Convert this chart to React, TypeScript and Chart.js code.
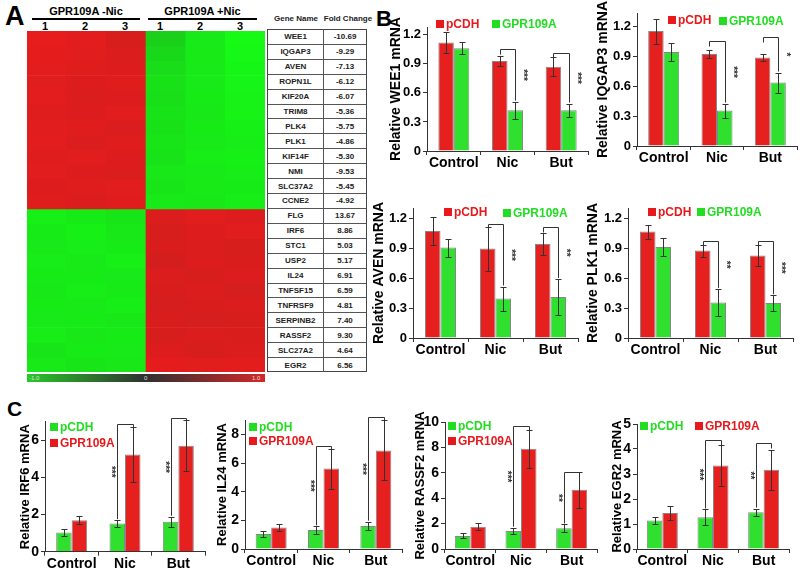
import React, { useEffect, useRef } from 'react';
import { Chart, registerables } from 'chart.js';
Chart.register(...registerables);

const FONT = 'Arial, "Liberation Sans", Helvetica, sans-serif';
const RED = '#e61f1f';
const GREEN = '#2fe02f';
const LEG_RED = '#e8191c';
const LEG_GREEN = '#22dd22';

// ---------- Panel A data ----------
const heatColumns = ['-Nic 1', '-Nic 2', '-Nic 3', '+Nic 1', '+Nic 2', '+Nic 3'];
const geneRows = ['WEE1', 'IQGAP3', 'AVEN', 'ROPN1L', 'KIF20A', 'TRIM8', 'PLK4', 'PLK1', 'KIF14F', 'NMI', 'SLC37A2', 'CCNE2',
  'FLG', 'IRF6', 'STC1', 'USP2', 'IL24', 'TNFSF15', 'TNFRSF9', 'SERPINB2', 'RASSF2', 'SLC27A2', 'EGR2'];
const foldChanges = ['-10.69', '-9.29', '-7.13', '-6.12', '-6.07', '-5.36', '-5.75', '-4.86', '-5.30', '-9.53', '-5.45', '-4.92',
  '13.67', '8.86', '5.03', '5.17', '6.91', '6.59', '4.81', '7.40', '9.30', '4.64', '6.56'];
const heatValues: number[][] = [
  [0.98, 0.96, 0.90, -0.80, -0.92, -1.00],
  [0.97, 0.95, 0.92, -0.84, -0.93, -0.99],
  [0.96, 0.94, 0.93, -0.86, -0.92, -0.98],
  [0.95, 0.93, 0.94, -0.88, -0.92, -0.97],
  [0.96, 0.92, 0.93, -0.87, -0.93, -0.96],
  [0.94, 0.93, 0.95, -0.89, -0.91, -0.96],
  [0.95, 0.94, 0.92, -0.88, -0.93, -0.95],
  [0.96, 0.92, 0.94, -0.90, -0.92, -0.94],
  [0.94, 0.95, 0.93, -0.89, -0.94, -0.95],
  [0.95, 0.93, 0.92, -0.91, -0.92, -0.94],
  [0.93, 0.94, 0.95, -0.90, -0.93, -0.93],
  [0.94, 0.92, 0.94, -0.92, -0.91, -0.94],
  [-0.95, -0.93, -0.90, 0.92, 0.95, 0.93],
  [-0.93, -0.95, -0.91, 0.90, 0.93, 0.95],
  [-0.92, -0.94, -0.93, 0.91, 0.92, 0.90],
  [-0.94, -0.92, -0.95, 0.88, 0.93, 0.91],
  [-0.93, -0.93, -0.92, 0.92, 0.90, 0.93],
  [-0.91, -0.94, -0.93, 0.90, 0.92, 0.89],
  [-0.93, -0.92, -0.94, 0.89, 0.91, 0.92],
  [-0.92, -0.93, -0.91, 0.91, 0.89, 0.90],
  [-0.94, -0.91, -0.93, 0.90, 0.92, 0.91],
  [-0.90, -0.93, -0.92, 0.93, 0.90, 0.92],
  [-0.92, -0.90, -0.91, 0.97, 0.95, 0.96],
];

// ---------- shared ----------
const categories = ['Control', 'Nic', 'But'];
const seriesNames = ['pCDH', 'GPR109A'];

// ---------- Panel B (pCDH, GPR109A) ----------
const wee1Pcdh = [1.12, 0.93, 0.87];
const wee1PcdhErr = [0.11, 0.05, 0.10];
const wee1Gpr = [1.06, 0.42, 0.42];
const wee1GprErr = [0.06, 0.09, 0.07];
const wee1Sig = ['', '***', '***'];
const wee1Bracket = [null, 1.05, 1.01];

const iqgap3Pcdh = [1.15, 0.92, 0.885];
const iqgap3PcdhErr = [0.125, 0.035, 0.037];
const iqgap3Gpr = [0.94, 0.355, 0.635];
const iqgap3GprErr = [0.09, 0.07, 0.10];
const iqgap3Sig = ['', '***', '*'];
const iqgap3Bracket = [null, 1.05, 1.09];

const avenPcdh = [1.07, 0.895, 0.94];
const avenPcdhErr = [0.14, 0.22, 0.11];
const avenGpr = [0.905, 0.395, 0.41];
const avenGprErr = [0.09, 0.12, 0.18];
const avenSig = ['', '***', '**'];
const avenBracket = [null, 1.14, 1.11];

const plk1Pcdh = [1.065, 0.875, 0.825];
const plk1PcdhErr = [0.07, 0.06, 0.108];
const plk1Gpr = [0.91, 0.355, 0.35];
const plk1GprErr = [0.088, 0.137, 0.078];
const plk1Sig = ['', '**', '***'];
const plk1Bracket = [null, 0.97, 0.97];

const bTicks = [0, 0.3, 0.6, 0.9, 1.2];

// ---------- Panel C (pCDH, GPR109A) ----------
const irf6Pcdh = [1.04, 1.52, 1.61];
const irf6PcdhErr = [0.17, 0.18, 0.27];
const irf6Gpr = [1.70, 5.23, 5.70];
const irf6GprErr = [0.2, 1.5, 1.37];
const irf6Sig = ['', '***', '***'];
const irf6Bracket = [null, 6.9, 7.22];
const irf6Ticks = [0, 2, 4, 6];

const il24Pcdh = [1.05, 1.33, 1.61];
const il24PcdhErr = [0.2, 0.25, 0.3];
const il24Gpr = [1.5, 5.61, 6.88];
const il24GprErr = [0.25, 1.4, 2.1];
const il24Sig = ['', '***', '***'];
const il24Bracket = [null, 7.18, 9.24];
const il24Ticks = [0, 2, 4, 6, 8];

const rassf2Pcdh = [1.03, 1.42, 1.63];
const rassf2PcdhErr = [0.2, 0.26, 0.3];
const rassf2Gpr = [1.76, 7.89, 4.66];
const rassf2GprErr = [0.28, 1.5, 1.4];
const rassf2Sig = ['', '***', '**'];
const rassf2Bracket = [null, 9.66, 6.1];
const rassf2Ticks = [0, 2, 4, 6, 8, 10];

const egr2Pcdh = [1.14, 1.27, 1.47];
const egr2PcdhErr = [0.13, 0.31, 0.15];
const egr2Gpr = [1.44, 3.34, 3.17];
const egr2GprErr = [0.28, 0.81, 0.8];
const egr2Sig = ['', '***', '**'];
const egr2Bracket = [null, 4.37, 4.24];
const egr2Ticks = [0, 1, 2, 3, 4, 5];

type Box = { x: number; y: number; w: number; h: number };
type Plot = { left: number; top: number; right: number; bottom: number };
type Spec = {
  box: Box; plot: Plot; titleX: number; title: string; titleSize: number; tickSize: number;
  max: number; ticks: number[]; decimals: number;
  data: number[][]; errs: number[][]; colors: string[];
  sig: string[]; bracket: (number | null)[]; starSide: number;
};

const specB1: Spec = {
  box: { x: 385, y: 0, w: 205, h: 178 }, plot: { left: 427, top: 27, right: 588, bottom: 151 },
  titleX: 396, title: 'Relative WEE1 mRNA', titleSize: 14, tickSize: 13, max: 1.28, ticks: bTicks, decimals: 1,
  data: [wee1Pcdh, wee1Gpr], errs: [wee1PcdhErr, wee1GprErr], colors: [RED, GREEN],
  sig: wee1Sig, bracket: wee1Bracket, starSide: 1,
};
const specB2: Spec = {
  box: { x: 590, y: 0, w: 210, h: 178 }, plot: { left: 637, top: 13, right: 797, bottom: 146 },
  titleX: 603, title: 'Relative IQGAP3 mRNA', titleSize: 14, tickSize: 13, max: 1.33, ticks: bTicks, decimals: 1,
  data: [iqgap3Pcdh, iqgap3Gpr], errs: [iqgap3PcdhErr, iqgap3GprErr], colors: [RED, GREEN],
  sig: iqgap3Sig, bracket: iqgap3Bracket, starSide: 1,
};
const specB3: Spec = {
  box: { x: 366, y: 185, w: 224, h: 180 }, plot: { left: 413, top: 208, right: 578, bottom: 338 },
  titleX: 379, title: 'Relative AVEN mRNA', titleSize: 14, tickSize: 13, max: 1.3, ticks: bTicks, decimals: 1,
  data: [avenPcdh, avenGpr], errs: [avenPcdhErr, avenGprErr], colors: [RED, GREEN],
  sig: avenSig, bracket: avenBracket, starSide: 1,
};
const specB4: Spec = {
  box: { x: 582, y: 185, w: 218, h: 180 }, plot: { left: 628, top: 208, right: 793, bottom: 338 },
  titleX: 593, title: 'Relative PLK1 mRNA', titleSize: 14, tickSize: 13, max: 1.3, ticks: bTicks, decimals: 1,
  data: [plk1Pcdh, plk1Gpr], errs: [plk1PcdhErr, plk1GprErr], colors: [RED, GREEN],
  sig: plk1Sig, bracket: plk1Bracket, starSide: 1,
};
const specC1: Spec = {
  box: { x: 0, y: 395, w: 210, h: 176 }, plot: { left: 45, top: 421.7, right: 205, bottom: 551.7 },
  titleX: 25, title: 'Relative IRF6 mRNA', titleSize: 13, tickSize: 14, max: 7, ticks: irf6Ticks, decimals: 0,
  data: [irf6Pcdh, irf6Gpr], errs: [irf6PcdhErr, irf6GprErr], colors: [GREEN, RED],
  sig: irf6Sig, bracket: irf6Bracket, starSide: -1,
};
const specC2: Spec = {
  box: { x: 205, y: 395, w: 200, h: 176 }, plot: { left: 245, top: 420, right: 402, bottom: 549 },
  titleX: 222, title: 'Relative IL24 mRNA', titleSize: 13, tickSize: 14, max: 9, ticks: il24Ticks, decimals: 0,
  data: [il24Pcdh, il24Gpr], errs: [il24PcdhErr, il24GprErr], colors: [GREEN, RED],
  sig: il24Sig, bracket: il24Bracket, starSide: -1,
};
const specC3: Spec = {
  box: { x: 405, y: 395, w: 195, h: 176 }, plot: { left: 445, top: 422, right: 597, bottom: 549 },
  titleX: 420, title: 'Relative RASSF2 mRNA', titleSize: 13, tickSize: 14, max: 10, ticks: rassf2Ticks, decimals: 0,
  data: [rassf2Pcdh, rassf2Gpr], errs: [rassf2PcdhErr, rassf2GprErr], colors: [GREEN, RED],
  sig: rassf2Sig, bracket: rassf2Bracket, starSide: -1,
};
const specC4: Spec = {
  box: { x: 600, y: 395, w: 200, h: 176 }, plot: { left: 637, top: 424, right: 789, bottom: 549 },
  titleX: 617, title: 'Relative EGR2 mRNA', titleSize: 13, tickSize: 14, max: 5, ticks: egr2Ticks, decimals: 0,
  data: [egr2Pcdh, egr2Gpr], errs: [egr2PcdhErr, egr2GprErr], colors: [GREEN, RED],
  sig: egr2Sig, bracket: egr2Bracket, starSide: -1,
};

function annotPlugin(spec: Spec) {
  return {
    id: 'annot',
    afterDatasetsDraw(chart: any) {
      const ctx = chart.ctx;
      const y = chart.scales.y;
      ctx.save();
      ctx.strokeStyle = '#333';
      ctx.lineWidth = 1;
      spec.data.forEach((vals, di) => {
        const meta = chart.getDatasetMeta(di);
        vals.forEach((v, i) => {
          const e = spec.errs[di][i];
          const x = Math.round(meta.data[i].x) + 0.5;
          const y1 = Math.round(y.getPixelForValue(v + e)) + 0.5;
          const y2 = Math.round(y.getPixelForValue(v - e)) + 0.5;
          ctx.beginPath();
          ctx.moveTo(x, y1); ctx.lineTo(x, y2);
          ctx.moveTo(x - 3, y1); ctx.lineTo(x + 3, y1);
          ctx.moveTo(x - 3, y2); ctx.lineTo(x + 3, y2);
          ctx.stroke();
        });
      });
      spec.bracket.forEach((b, i) => {
        if (b == null) return;
        const tops = spec.data.map((vals, di) => vals[i] + spec.errs[di][i]);
        const low = tops[0] < tops[1] ? 0 : 1;
        const high = 1 - low;
        const xl = Math.round(chart.getDatasetMeta(low).data[i].x) + 0.5;
        const xh = Math.round(chart.getDatasetMeta(high).data[i].x) + 0.5;
        const yb = Math.round(y.getPixelForValue(b)) + 0.5;
        const yLow = y.getPixelForValue(tops[low]) - 1;
        ctx.beginPath();
        ctx.moveTo(xh, yb + 5);
        ctx.lineTo(xh, yb);
        ctx.lineTo(xl, yb);
        ctx.lineTo(xl, yLow);
        ctx.stroke();
        ctx.save();
        ctx.translate(xl + spec.starSide * 7, (yb + yLow) / 2);
        ctx.rotate(Math.PI / 2);
        ctx.fillStyle = '#333';
        ctx.font = `bold 10px ${FONT}`;
        ctx.textAlign = 'center';
        ctx.textBaseline = 'middle';
        ctx.fillText(spec.sig[i], 0, 0);
        ctx.restore();
      });
      ctx.restore();
    },
  };
}

function buildConfig(spec: Spec): any {
  const { box, plot } = spec;
  const catPct = 31 / ((plot.right - plot.left) / 3);
  const titleHalf = (spec.titleSize * 1.2) / 2;
  return {
    type: 'bar',
    data: {
      labels: categories,
      datasets: spec.data.map((d, di) => ({
        label: seriesNames[di],
        data: d,
        backgroundColor: spec.colors[di],
        borderColor: 'rgba(70,70,70,0.65)',
        borderWidth: 1,
        barPercentage: 1,
        categoryPercentage: catPct,
      })),
    },
    options: {
      responsive: false,
      animation: false,
      events: [],
      layout: { padding: { left: 0, top: plot.top - box.y, right: box.x + box.w - plot.right, bottom: 0 } },
      plugins: { legend: { display: false }, tooltip: { enabled: false } },
      scales: {
        x: {
          grid: { offset: true, drawOnChartArea: false, tickLength: 4, color: '#333' },
          border: { color: '#333' },
          ticks: { font: { family: FONT, size: 14, weight: 'bold' }, color: '#000', padding: 0, maxRotation: 0, autoSkip: false },
          afterFit: (s: any) => { s.height = box.y + box.h - plot.bottom; },
        },
        y: {
          min: 0,
          max: spec.max,
          grid: { drawOnChartArea: false, tickLength: 4, color: '#333' },
          border: { color: '#333' },
          ticks: {
            font: { family: FONT, size: spec.tickSize, weight: 'bold' }, color: '#000', padding: 2, autoSkip: false,
            callback: (v: number) => (v === 0 ? '0' : v.toFixed(spec.decimals)),
          },
          afterBuildTicks: (s: any) => { s.ticks = spec.ticks.map((v) => ({ value: v })); },
          afterFit: (s: any) => { s.width = plot.left - box.x; },
          title: {
            display: true, text: spec.title, color: '#000',
            font: { family: FONT, size: spec.titleSize, weight: 'bold' },
            padding: { top: spec.titleX - box.x - titleHalf, bottom: 0 },
          },
        },
      },
    },
    plugins: [annotPlugin(spec)],
  };
}

function BarPanel({ spec }: { spec: Spec }) {
  const ref = useRef<HTMLCanvasElement>(null);
  useEffect(() => {
    const chart = new Chart(ref.current as HTMLCanvasElement, buildConfig(spec));
    return () => chart.destroy();
  }, [spec]);
  const { box } = spec;
  return (
    <canvas ref={ref} width={box.w} height={box.h}
      style={{ position: 'absolute', left: box.x, top: box.y, width: box.w, height: box.h }} />
  );
}

function heatColor(v: number): string {
  const t = Math.min(1, Math.abs(v));
  if (v >= 0) {
    return `rgb(${Math.round(40 + 195 * t)},${Math.round(42 - 14 * t)},${Math.round(42 - 14 * t)})`;
  }
  return `rgb(${Math.round(42 - 20 * t)},${Math.round(40 + 210 * t)},${Math.round(42 - 20 * t)})`;
}

function Heatmap() {
  const ref = useRef<HTMLCanvasElement>(null);
  useEffect(() => {
    const chart = new Chart(ref.current as HTMLCanvasElement, {
      type: 'bar',
      data: {
        labels: heatColumns,
        datasets: heatValues.map((row, r) => ({
          label: geneRows[r],
          data: heatColumns.map(() => [r, r + 1]),
          backgroundColor: row.map(heatColor),
          borderWidth: 0,
          barPercentage: 1,
          categoryPercentage: 1,
        })),
      } as any,
      options: {
        responsive: false,
        animation: false,
        events: [],
        layout: { padding: 0 },
        plugins: { legend: { display: false }, tooltip: { enabled: false } },
        scales: {
          x: { display: false, stacked: true },
          y: { display: false, min: 0, max: heatValues.length, reverse: true, stacked: false },
        },
      } as any,
    });
    return () => chart.destroy();
  }, []);
  return (
    <canvas ref={ref} width={238} height={341}
      style={{ position: 'absolute', left: 27, top: 31, width: 238, height: 341 }} />
  );
}

function LegendItem({ x, y, color, label, size }: { x: number; y: number; color: string; label: string; size: number }) {
  return (
    <div style={{ position: 'absolute', left: x, top: y - 8, height: 16, display: 'flex', alignItems: 'center',
      fontFamily: FONT, fontWeight: 'bold', fontSize: size, color, whiteSpace: 'nowrap' }}>
      <span style={{ display: 'inline-block', width: 8, height: 8, background: color, marginRight: 2 }} />
      {label}
    </div>
  );
}

const txt = (extra: React.CSSProperties): React.CSSProperties => ({
  position: 'absolute', fontFamily: FONT, fontWeight: 'bold', color: '#000', whiteSpace: 'nowrap', lineHeight: 1, ...extra,
});

export default function App() {
  const rowH = 343 / geneRows.length;
  return (
    <div style={{ position: 'absolute', left: 0, top: 0, width: 800, height: 571, background: '#fff', overflow: 'hidden' }}>
      {/* Panel labels */}
      <div style={txt({ left: 5, top: 3, fontSize: 27 })}>A</div>
      <div style={txt({ left: 376, top: 8, fontSize: 22 })}>B</div>
      <div style={txt({ left: 7, top: 398, fontSize: 21 })}>C</div>

      {/* Heatmap headers */}
      <div style={txt({ left: 32, width: 108, top: 6, fontSize: 11, textAlign: 'center' })}>GPR109A -Nic</div>
      <div style={{ position: 'absolute', left: 32, width: 108, top: 18, height: 1.5, background: '#000' }} />
      <div style={txt({ left: 148, width: 109, top: 6, fontSize: 11, textAlign: 'center' })}>GPR109A +Nic</div>
      <div style={{ position: 'absolute', left: 148, width: 109, top: 18, height: 1.5, background: '#000' }} />
      {[45, 85, 125, 160, 200, 240].map((cx, i) => (
        <div key={i} style={txt({ left: cx - 6, width: 12, top: 21, fontSize: 11, textAlign: 'center' })}>{(i % 3) + 1}</div>
      ))}
      <Heatmap />
      <div style={{ position: 'absolute', left: 27, top: 374, width: 238, height: 8,
        background: 'linear-gradient(to right, rgb(40,200,40), #303030 50%, rgb(210,40,40))' }} />
      <div style={txt({ left: 29, top: 375, fontSize: 6, color: '#ddd', fontWeight: 'normal' })}>-1.0</div>
      <div style={txt({ left: 144, top: 375, fontSize: 6, color: '#ddd', fontWeight: 'normal' })}>0</div>
      <div style={txt({ left: 252, top: 375, fontSize: 6, color: '#ddd', fontWeight: 'normal' })}>1.0</div>

      {/* Table */}
      <div style={txt({ left: 268, width: 56, top: 15, fontSize: 8, textAlign: 'center', color: '#222' })}>Gene Name</div>
      <div style={txt({ left: 323, width: 50, top: 15, fontSize: 8, textAlign: 'center', color: '#222' })}>Fold Change</div>
      <div style={{ position: 'absolute', left: 267, top: 29, width: 100, height: 343, boxSizing: 'border-box',
        border: '1px solid #444' }}>
        {geneRows.map((g, i) => (
          <div key={g} style={{ position: 'absolute', left: 0, top: i * rowH - 1, width: 98, height: rowH,
            boxSizing: 'border-box', borderTop: i === 0 ? 'none' : '1px solid #555', display: 'flex',
            fontFamily: FONT, fontWeight: 'bold', fontSize: 8, color: '#222' }}>
            <div style={{ width: 55, borderRight: '1px solid #555', display: 'flex', alignItems: 'center', justifyContent: 'center' }}>{g}</div>
            <div style={{ flex: 1, display: 'flex', alignItems: 'center', justifyContent: 'center' }}>{foldChanges[i]}</div>
          </div>
        ))}
      </div>

      {/* Panel B */}
      <BarPanel spec={specB1} />
      <BarPanel spec={specB2} />
      <BarPanel spec={specB3} />
      <BarPanel spec={specB4} />
      <LegendItem x={436} y={24} color={LEG_RED} label={seriesNames[0]} size={12} />
      <LegendItem x={492} y={24} color={LEG_GREEN} label={seriesNames[1]} size={12} />
      <LegendItem x={668} y={20} color={LEG_RED} label={seriesNames[0]} size={12} />
      <LegendItem x={719} y={21} color={LEG_GREEN} label={seriesNames[1]} size={12} />
      <LegendItem x={444} y={212} color={LEG_RED} label={seriesNames[0]} size={12} />
      <LegendItem x={503} y={213} color={LEG_GREEN} label={seriesNames[1]} size={12} />
      <LegendItem x={648} y={212} color={LEG_RED} label={seriesNames[0]} size={12} />
      <LegendItem x={697} y={212} color={LEG_GREEN} label={seriesNames[1]} size={12} />

      {/* Panel C */}
      <BarPanel spec={specC1} />
      <BarPanel spec={specC2} />
      <BarPanel spec={specC3} />
      <BarPanel spec={specC4} />
      <LegendItem x={50} y={427} color={LEG_GREEN} label={seriesNames[0]} size={12} />
      <LegendItem x={50} y={443} color={LEG_RED} label={seriesNames[1]} size={12} />
      <LegendItem x={249} y={427} color={LEG_GREEN} label={seriesNames[0]} size={12} />
      <LegendItem x={249} y={441} color={LEG_RED} label={seriesNames[1]} size={12} />
      <LegendItem x={448} y={426} color={LEG_GREEN} label={seriesNames[0]} size={12} />
      <LegendItem x={448} y={441} color={LEG_RED} label={seriesNames[1]} size={12} />
      <LegendItem x={640} y={426} color={LEG_GREEN} label={seriesNames[0]} size={12} />
      <LegendItem x={695} y={426} color={LEG_RED} label={seriesNames[1]} size={12} />
    </div>
  );
}
